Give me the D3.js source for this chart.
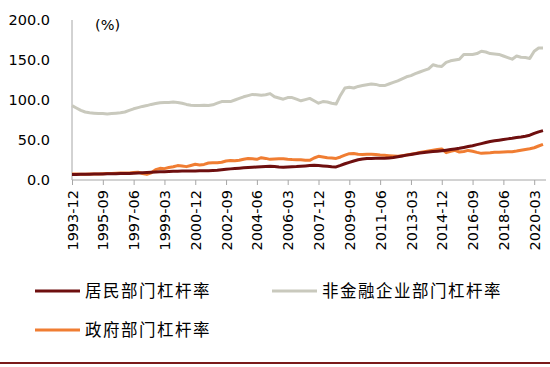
<!DOCTYPE html>
<html>
<head>
<meta charset="utf-8">
<script src="https://cdn.jsdelivr.net/npm/d3@7"></script>
<style>
    body { margin: 0; background: #fff; }
    .axis text { font-family: "DejaVu Sans", sans-serif; font-size: 14.5px; fill: #000; }
    .axis path, .axis line { stroke: #a6a6a6; }
    .legend-label { font-family: "Noto Sans CJK SC", sans-serif; font-size: 16.5px; fill: #000; letter-spacing: 1.5px; }
</style>
</head>
<body>
<div id="chart"></div>
<script>
// tick labels on the x axis (every 7 quarters)
var tickLabels = ["1993-12", "1995-09", "1997-06", "1999-03", "2000-12", "2002-09", "2004-06", "2006-03",
    "2007-12", "2009-09", "2011-06", "2013-03", "2014-12", "2016-09", "2018-06", "2020-03"];

var yTicks = [0, 50, 100, 150, 200];

var seriesNames = ["居民部门杠杆率", "非金融企业部门杠杆率", "政府部门杠杆率"];
var seriesColors = ["#6e0f0f", "#c9c9bd", "#f07d32"];

// quarterly values, 1993-12 .. 2020-09
var household = [7, 7, 7.1, 7.2, 7.3, 7.4, 7.5, 7.6, 7.7, 7.8, 7.9, 8.0, 8.1, 8.2, 8.4, 8.7, 9.0, 9.3, 9.6, 9.9,
    10.2, 10.4, 10.6, 10.8, 11.0, 11.1, 11.2, 11.3, 11.4, 11.5, 11.6, 11.7, 11.9, 12.2, 12.8, 13.4, 13.9, 14.3, 14.8, 15.2,
    15.5, 15.8, 16.2, 16.5, 16.8, 17.1, 16.9, 16.2, 15.9, 16.3, 16.6, 16.8, 17.2, 17.6, 18.0, 18.3, 18.0, 17.6, 17.2, 16.7,
    16.4, 18.2, 20.3, 22.1, 23.8, 25.3, 26.2, 26.8, 27.0, 27.1, 27.1, 27.3, 27.6, 28.0, 29.0, 30.0, 31.1, 32.0, 32.9, 33.7,
    34.5, 35.0, 35.5, 36.0, 36.6, 37.3, 38.0, 38.8, 39.6, 40.7, 41.8, 42.9, 44.2, 45.5, 46.8, 48.1, 49.0, 49.8, 50.6, 51.4,
    52.1, 53.0, 53.8, 54.8, 56.0, 58.3, 60.2, 61.7];

var corporate = [93, 90, 87, 85, 84, 83.5, 83, 83, 82.5, 83, 83.5, 84, 85, 87, 89, 90.5, 92, 93, 94.5, 95.5,
    96.5, 97, 97, 97.5, 97, 96, 94.5, 93.5, 93, 93, 93.5, 93, 94, 96, 98, 98, 98, 100, 102, 104,
    105.5, 107, 106.5, 106, 106.5, 108, 104, 102.5, 101, 103, 103, 101, 99, 100.5, 102, 99, 96, 98, 97.5, 96,
    95, 106, 115, 116, 115, 117, 118, 119, 120, 119.5, 118, 118, 120, 122, 124, 126.5, 129, 130.5, 133, 135,
    137, 139, 144, 142.5, 142, 147, 149, 150, 151, 157, 157, 157, 158, 161, 160, 158, 157.5, 157, 155, 153,
    151, 155, 153.5, 153, 152, 161, 165, 165];

var government = [7.5, 7.4, 7.3, 7.3, 7.4, 7.5, 7.6, 7.8, 8.0, 8.1, 8.3, 8.6, 8.9, 8.8, 9.3, 9.8, 8.2, 7.0, 9.0, 13.0,
    14.6, 14.2, 15.6, 16.5, 18.0, 17.5, 16.7, 18.2, 19.6, 18.8, 19.5, 21.2, 21.7, 21.5, 22.2, 23.8, 24.3, 24.0, 24.6, 26.0,
    27.0, 26.5, 25.8, 27.9, 27.0, 25.8, 26.2, 26.5, 26.7, 26.0, 25.6, 25.4, 25.2, 24.8, 24.6, 27.5, 29.6, 28.8, 27.9, 27.4,
    27.0, 28.8, 31.0, 32.9, 33.2, 32.3, 32.0, 32.2, 32.3, 31.8, 31.2, 30.8, 30.4, 30.0, 29.6, 30.4, 31.3, 32.3, 33.3, 34.4,
    35.4, 36.3, 37.2, 38.0, 38.8, 34.2, 35.8, 37.0, 35.0, 35.6, 37.0, 36.0, 34.5, 33.3, 33.6, 34.0, 34.6, 34.8, 35.0, 35.2,
    35.4, 36.2, 37.2, 38.2, 39.0, 40.3, 42.5, 44.6];

// build quarter labels 1993-12 .. 2020-09
var quarters = [];
(function() {
    var y = 1993, m = 12;
    for (var i = 0; i < household.length; i++) {
        quarters.push(y + "-" + (m < 10 ? "0" + m : m));
        m += 3;
        if (m > 12) { m -= 12; y++; }
    }
})();

var allSeries = [household, corporate, government];

var width = 550, height = 367;
var svg = d3.select("#chart").append("svg")
    .attr("width", width)
    .attr("height", height);

var x = d3.scalePoint()
    .domain(quarters)
    .range([72, 543]);

var y = d3.scaleLinear()
    .domain([0, 200])
    .range([180, 20]);

// y axis
var yAxis = d3.axisLeft(y)
    .tickValues(yTicks)
    .tickSize(0)
    .tickPadding(22)
    .tickFormat(d3.format(".1f"));

svg.append("g")
    .attr("class", "axis y-axis")
    .attr("transform", "translate(72,0)")
    .call(yAxis)
    .call(function(g) { g.select(".domain").attr("d", "M0,20V180"); });

// x axis
var xAxis = d3.axisBottom(x)
    .tickValues(tickLabels)
    .tickSizeOuter(0)
    .tickSize(5);

var xg = svg.append("g")
    .attr("class", "axis x-axis")
    .attr("transform", "translate(0,180)")
    .call(xAxis);

xg.select(".domain").attr("d", "M72,0H546");

xg.selectAll("text")
    .attr("transform", "rotate(-90)")
    .attr("text-anchor", "end")
    .attr("x", -10)
    .attr("y", 0)
    .attr("dy", "0.35em");

// unit label
svg.append("text")
    .attr("x", 95)
    .attr("y", 30)
    .attr("font-family", "DejaVu Sans, sans-serif")
    .attr("font-size", "14.5px")
    .text("(%)");

// lines
var line = d3.line()
    .x(function(d, i) { return x(quarters[i]); })
    .y(function(d) { return y(d); });

// draw corporate first, then government, then household
[1, 2, 0].forEach(function(k) {
    svg.append("path")
        .datum(allSeries[k])
        .attr("fill", "none")
        .attr("stroke", seriesColors[k])
        .attr("stroke-width", 3)
        .attr("stroke-linejoin", "round")
        .attr("d", line);
});

// legend
var legendPos = [[35, 291], [272, 291], [35, 330]];
seriesNames.forEach(function(name, i) {
    var g = svg.append("g")
        .attr("transform", "translate(" + legendPos[i][0] + "," + legendPos[i][1] + ")");
    g.append("line")
        .attr("x1", 0).attr("x2", 45)
        .attr("stroke", seriesColors[i])
        .attr("stroke-width", 3);
    g.append("text")
        .attr("class", "legend-label")
        .attr("x", 50)
        .attr("dy", "0.35em")
        .text(name);
});

// bottom rule
svg.append("line")
    .attr("x1", 0).attr("x2", width)
    .attr("y1", 363).attr("y2", 363)
    .attr("stroke", "#7a1a1a")
    .attr("stroke-width", 2);
</script>
</body>
</html>
